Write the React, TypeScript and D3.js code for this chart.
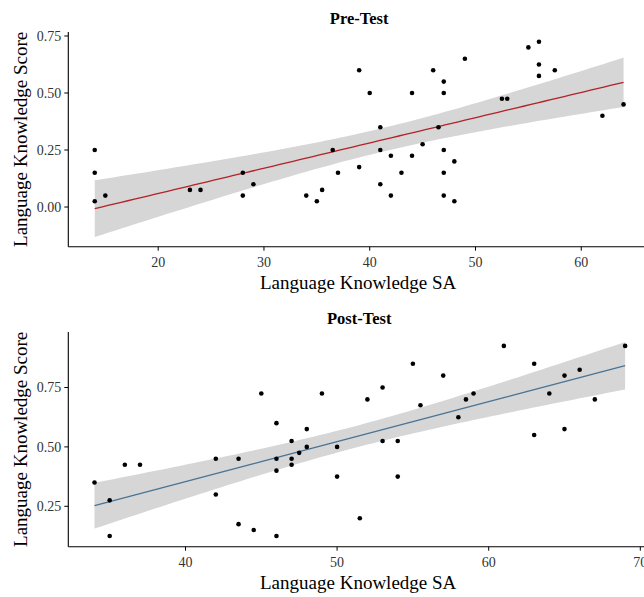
import React from "react";
import * as d3 from "d3";

const preX = [14, 14, 14, 15, 23, 24, 28, 28, 29, 34, 35, 35.5, 36.5, 37,
  39, 40, 39, 41, 41, 41, 42, 42, 43, 44, 44, 45, 46, 46.5, 47, 47, 47, 47, 47,
  48, 48, 49, 52.5, 53, 55, 56, 56, 56, 57.5, 62, 64];
const preY = [0.25, 0.15, 0.025, 0.05, 0.075, 0.075, 0.15, 0.05, 0.1, 0.05, 0.025, 0.075, 0.25, 0.15,
  0.6, 0.5, 0.175, 0.35, 0.25, 0.1, 0.225, 0.05, 0.15, 0.5, 0.225, 0.275, 0.6, 0.35, 0.55, 0.5, 0.25, 0.15, 0.05,
  0.2, 0.025, 0.65, 0.475, 0.475, 0.7, 0.725, 0.625, 0.575, 0.6, 0.4, 0.45];

const postX = [34, 35, 35, 36, 37, 42, 42, 43.5, 43.5, 44.5, 45, 46, 46, 46, 46,
  47, 47, 47, 47.5, 48, 48, 49, 50, 50,
  51.5, 52, 53, 53, 54, 54, 55, 55.5, 57, 58, 58.5, 59, 61, 63, 63, 64, 65, 65, 66, 67, 69];
const postY = [0.35, 0.275, 0.125, 0.425, 0.425, 0.45, 0.3, 0.45, 0.175, 0.15, 0.725, 0.6, 0.45, 0.4, 0.125,
  0.525, 0.45, 0.425, 0.475, 0.575, 0.5, 0.725, 0.5, 0.375,
  0.2, 0.7, 0.75, 0.525, 0.525, 0.375, 0.85, 0.675, 0.8, 0.625, 0.7, 0.725, 0.925, 0.85, 0.55, 0.725, 0.8, 0.575, 0.825, 0.7, 0.925];

const preXTicks = [20, 30, 40, 50, 60];
const preYTicks = [0, 0.25, 0.5, 0.75];
const postXTicks = [40, 50, 60, 70];
const postYTicks = [0.25, 0.5, 0.75];

const T_CRIT = 2.017; // t(0.975, df = 43)

function fitLm(xs: number[], ys: number[]) {
  const n = xs.length;
  const mx = d3.mean(xs)!;
  const my = d3.mean(ys)!;
  let sxx = 0, sxy = 0;
  for (let i = 0; i < n; i++) {
    sxx += (xs[i] - mx) ** 2;
    sxy += (xs[i] - mx) * (ys[i] - my);
  }
  const b = sxy / sxx;
  const a = my - b * mx;
  let sse = 0;
  for (let i = 0; i < n; i++) sse += (ys[i] - a - b * xs[i]) ** 2;
  const s = Math.sqrt(sse / (n - 2));
  const [x0, x1] = d3.extent(xs) as [number, number];
  const pts = d3.range(0, 81).map((k) => {
    const x = x0 + ((x1 - x0) * k) / 80;
    const yhat = a + b * x;
    const se = s * Math.sqrt(1 / n + (x - mx) ** 2 / sxx);
    return { x, y: yhat, lo: yhat - T_CRIT * se, hi: yhat + T_CRIT * se };
  });
  return pts;
}

const FONT = "'Liberation Serif', 'Times New Roman', serif";

type PanelProps = {
  top: number;
  title: string;
  xs: number[];
  ys: number[];
  xDomain: [number, number];
  yDomain: [number, number];
  xTicks: number[];
  yTicks: number[];
  lineColor: string;
};

function Panel({ top, title, xs, ys, xDomain, yDomain, xTicks, yTicks, lineColor }: PanelProps) {
  const left = 68.3;
  const right = 650;
  const plotTop = top + 32;
  const plotBottom = top + 246.7;
  const x = d3.scaleLinear().domain(xDomain).range([left, right]);
  const y = d3.scaleLinear().domain(yDomain).range([plotBottom, plotTop]);
  const fit = fitLm(xs, ys);
  const area = d3
    .area<{ x: number; lo: number; hi: number }>()
    .x((d) => x(d.x))
    .y0((d) => y(d.lo))
    .y1((d) => y(d.hi));
  const line = d3
    .line<{ x: number; y: number }>()
    .x((d) => x(d.x))
    .y((d) => y(d.y));
  const fmt = d3.format(".2f");
  return (
    <g>
      <text x={(left + right) / 2} y={top + 24} textAnchor="middle" fontFamily={FONT} fontWeight="bold" fontSize={16.5} fill="#000">
        {title}
      </text>
      <path d={area(fit)!} fill="#d6d6d6" stroke="none" />
      <path d={line(fit)!} fill="none" stroke={lineColor} strokeWidth={1.3} />
      {xs.map((xv, i) => (
        <circle key={i} cx={x(xv)} cy={y(ys[i])} r={2.3} fill="#000" />
      ))}
      <line x1={left} x2={left} y1={plotTop} y2={plotBottom} stroke="#000" strokeWidth={1.1} />
      <line x1={left} x2={right} y1={plotBottom} y2={plotBottom} stroke="#000" strokeWidth={1.1} />
      {yTicks.map((t) => (
        <g key={"y" + t}>
          <line x1={left - 4} x2={left} y1={y(t)} y2={y(t)} stroke="#000" strokeWidth={1} />
          <text x={left - 7} y={y(t)} dy="0.35em" textAnchor="end" fontFamily={FONT} fontSize={14} fill="#333">
            {fmt(t)}
          </text>
        </g>
      ))}
      {xTicks.map((t) => (
        <g key={"x" + t}>
          <line x1={x(t)} x2={x(t)} y1={plotBottom} y2={plotBottom + 4} stroke="#000" strokeWidth={1} />
          <text x={x(t)} y={top + 266.7} textAnchor="middle" fontFamily={FONT} fontSize={14} fill="#333">
            {t}
          </text>
        </g>
      ))}
      <text x={(left + right) / 2 - 1} y={top + 289.3} textAnchor="middle" fontFamily={FONT} fontSize={19} fill="#000">
        Language Knowledge SA
      </text>
      <text
        transform={`translate(26.5,${(plotTop + plotBottom) / 2}) rotate(-90)`}
        textAnchor="middle"
        fontFamily={FONT}
        fontSize={19}
        fill="#000"
      >
        Language Knowledge Score
      </text>
    </g>
  );
}

export default function App() {
  return (
    <svg width={644} height={597} style={{ position: "absolute", left: 0, top: 0, background: "#fff" }}>
      <rect width={644} height={597} fill="#fff" />
      <Panel
        top={0}
        title="Pre-Test"
        xs={preX}
        ys={preY}
        xDomain={[11.5, 66.5]}
        yDomain={[-0.174, 0.7675]}
        xTicks={preXTicks}
        yTicks={preYTicks}
        lineColor="#b22228"
      />
      <Panel
        top={300}
        title="Post-Test"
        xs={postX}
        ys={postY}
        xDomain={[32.27, 70.64]}
        yDomain={[0.08, 0.9836]}
        xTicks={postXTicks}
        yTicks={postYTicks}
        lineColor="#4a7394"
      />
    </svg>
  );
}
